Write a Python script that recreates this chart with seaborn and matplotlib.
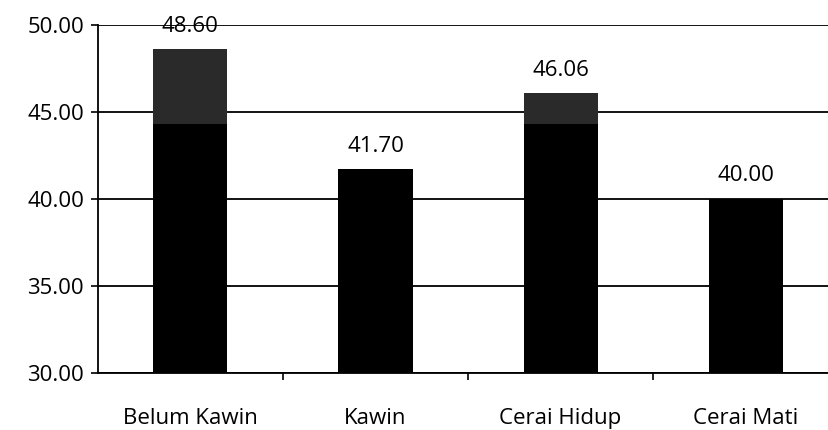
import numpy as np
import pandas as pd
import matplotlib
matplotlib.use("Agg")
import matplotlib.pyplot as plt
import seaborn as sns

# data
categories = ["Belum Kawin", "Kawin", "Cerai Hidup", "Cerai Mati"]
values = [48.60, 41.70, 46.06, 40.00]
value_labels = ["48.60", "41.70", "46.06", "40.00"]
y_ticks = [30, 35, 40, 45, 50]

df = pd.DataFrame({"status": categories, "nilai": values})

sns.set_style("white")
plt.rcParams["font.family"] = ["Open Sans", "DejaVu Sans"]
plt.rcParams["text.color"] = "black"
plt.rcParams["xtick.color"] = "black"
plt.rcParams["ytick.color"] = "black"

fig = plt.figure(figsize=(8.29, 4.30), dpi=100)
ax = fig.add_axes([0.118, 0.133, 0.882, 0.809])

sns.barplot(data=df, x="status", y="nilai", color="black", width=0.4,
            saturation=1, linewidth=0, ax=ax, zorder=2)
# scanned look: upper part of bar a bit lighter
for patch in list(ax.patches):
    h = patch.get_height()
    if h > 44.3:
        ax.bar(patch.get_x() + patch.get_width() / 2, h - 44.3, bottom=44.3,
               width=patch.get_width(), color="#2a2a2a", linewidth=0, zorder=3)

ax.set_ylim(30, 50)
ax.set_xlim(-0.5, 3.45)
ax.set_yticks(y_ticks)
ax.set_yticklabels([f"{t:.2f}" for t in y_ticks])
ax.yaxis.grid(True, color="black", linewidth=1.3, zorder=0)
ax.set_axisbelow(True)

for spine in ["top", "right"]:
    ax.spines[spine].set_visible(False)
for spine in ["left", "bottom"]:
    ax.spines[spine].set_color("black")
    ax.spines[spine].set_linewidth(1.3)

ax.set_xticks(range(len(categories)))
ax.set_xticklabels(categories)
ax.set_xticks(np.arange(0.5, len(categories) - 1, 1), minor=True)
ax.tick_params(axis="x", which="major", bottom=True, length=0, pad=25, labelsize=16)
ax.tick_params(axis="x", which="minor", bottom=True, length=5, width=1.2, direction="out")
ax.tick_params(axis="y", left=True, length=5, width=1.2, direction="out", labelsize=16, pad=5)
ax.set_xlabel("")
ax.set_ylabel("")

for i, (v, lab) in enumerate(zip(values, value_labels)):
    ax.annotate(lab, (i, v), xytext=(0, 9), textcoords="offset points",
                ha="center", va="bottom", fontsize=16, clip_on=False)

fig.savefig("out.png", dpi=100)
